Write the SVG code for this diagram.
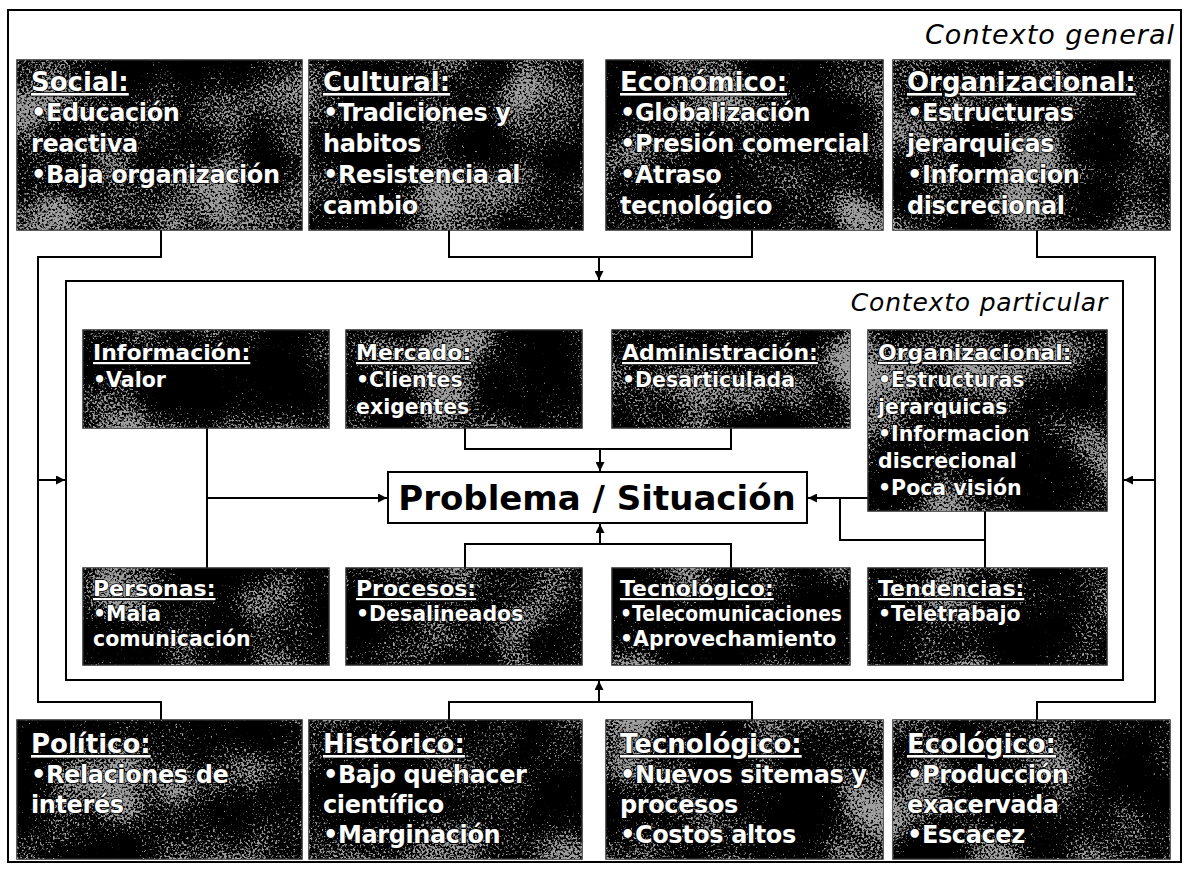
<svg xmlns="http://www.w3.org/2000/svg" width="1189" height="869" viewBox="0 0 1189 869">
  <style>
    .frame { fill: #ffffff; stroke: #000000; stroke-width: 2; }
    .box { fill: #000000; stroke: #2a2a2a; stroke-width: 1.5; }
    .grain { fill: #000000; filter: url(#speckle); }
    .wire { fill: none; stroke: #000000; stroke-width: 2; }
    .arrow { fill: none; stroke: #000000; stroke-width: 2; marker-end: url(#head); }
    .ctx { font-family: "DejaVu Sans", Verdana, sans-serif; font-style: italic; fill: #000000; }
    .t { font-family: "DejaVu Sans", Verdana, sans-serif; font-weight: bold; fill: #ffffff;
         stroke: #000000; stroke-width: 1.6; paint-order: stroke; stroke-linejoin: round; }
    .big { font-size: 24px; letter-spacing: -0.4px; }
    .big .hd { font-size: 26px; letter-spacing: 0; }
    .mid { font-size: 20.5px; }
    .mid .hd { font-size: 22px; }
    .hd { text-decoration: underline; }
    .prob { font-family: "DejaVu Sans", Verdana, sans-serif; font-weight: bold; font-size: 34px; fill: #000000; }
    .pbox { fill: #ffffff; stroke: #000000; stroke-width: 2; }
  </style>
  <defs>
    <!-- grey speckle over the dark boxes: fine noise whose density drifts with a slow noise field -->
    <filter id="speckle" x="0" y="0" width="1" height="1" color-interpolation-filters="sRGB">
      <feTurbulence type="fractalNoise" baseFrequency="0.45" numOctaves="3" seed="7" result="fine"/>
      <feColorMatrix in="fine" type="matrix" values="0 0 0 0 0  0 0 0 0 0  0 0 0 0 0  1 0 0 0 0" result="fineA"/>
      <feTurbulence type="fractalNoise" baseFrequency="0.012" numOctaves="2" seed="23" result="slow"/>
      <feColorMatrix in="slow" type="matrix" values="0 0 0 0 0  0 0 0 0 0  0 0 0 0 0  1 0 0 0 0" result="slowA"/>
      <feComposite in="fineA" in2="slowA" operator="arithmetic" k1="0" k2="1" k3="1" k4="-0.5" result="mix"/>
      <feColorMatrix in="mix" type="matrix" values="0 0 0 0 0.62  0 0 0 0 0.62  0 0 0 0 0.62  0 0 0 6 -3.45" result="spots"/>
      <feComposite in="spots" in2="SourceGraphic" operator="in"/>
    </filter>
    <marker id="head" viewBox="0 0 10 10" refX="10" refY="5" markerWidth="5" markerHeight="4.5" orient="auto" markerUnits="strokeWidth">
      <path d="M0,0 L10,5 L0,10 z" fill="#000000"/>
    </marker>
  </defs>

  <!-- general context frame -->
  <rect class="frame" x="8" y="10" width="1173" height="852"/>
  <text class="ctx" x="1175" y="44" font-size="27" letter-spacing="1" text-anchor="end">Contexto general</text>

  <!-- particular context frame -->
  <rect class="frame" x="66" y="281" width="1057" height="399"/>
  <text class="ctx" x="1108" y="311" font-size="25" letter-spacing="0.8" text-anchor="end">Contexto particular</text>

  <!-- connectors -->
  <g id="connectors">
    <path class="wire" d="M161,230 V257 H38 V702 H161 V720"/>
    <path class="arrow" d="M38,480 H65"/>
    <path class="wire" d="M1037,230 V257 H1155 V702 H1037 V720"/>
    <path class="arrow" d="M1155,480 H1124"/>
    <path class="wire" d="M449,230 V257 H752 V230"/>
    <path class="arrow" d="M599,257 V280"/>
    <path class="wire" d="M449,720 V702 H752 V720"/>
    <path class="arrow" d="M599,702 V681"/>

    <path class="wire" d="M207,428 V568"/>
    <path class="arrow" d="M207,498 H387"/>
    <path class="wire" d="M465,428 V449 H731 V428"/>
    <path class="arrow" d="M600,449 V471"/>
    <path class="wire" d="M465,568 V544 H731 V568"/>
    <path class="arrow" d="M600,544 V524"/>
    <path class="wire" d="M985,511 V568 M985,540 H840 V498"/>
    <path class="arrow" d="M868,498 H808"/>
  </g>

  <!-- top row: general context -->
  <g id="social">
    <rect class="box" x="17" y="60" width="285" height="170"/>
    <rect class="grain" x="17" y="60" width="285" height="170"/>
    <text class="t big" x="31"><tspan class="hd" y="91">Social:</tspan><tspan x="31" y="121">•Educación</tspan><tspan x="31" y="152">reactiva</tspan><tspan x="31" y="183">•Baja organización</tspan></text>
  </g>
  <g id="cultural">
    <rect class="box" x="309" y="60" width="274" height="170"/>
    <rect class="grain" x="309" y="60" width="274" height="170"/>
    <text class="t big" x="323"><tspan class="hd" y="91">Cultural:</tspan><tspan x="323" y="121">•Tradiciones y</tspan><tspan x="323" y="152">habitos</tspan><tspan x="323" y="183">•Resistencia al</tspan><tspan x="323" y="214">cambio</tspan></text>
  </g>
  <g id="economico">
    <rect class="box" x="606" y="60" width="277" height="170"/>
    <rect class="grain" x="606" y="60" width="277" height="170"/>
    <text class="t big" x="620"><tspan class="hd" y="91">Económico:</tspan><tspan x="620" y="121">•Globalización</tspan><tspan x="620" y="152">•Presión comercial</tspan><tspan x="620" y="183">•Atraso</tspan><tspan x="620" y="214">tecnológico</tspan></text>
  </g>
  <g id="organizacional-general">
    <rect class="box" x="893" y="60" width="277" height="170"/>
    <rect class="grain" x="893" y="60" width="277" height="170"/>
    <text class="t big" x="907"><tspan class="hd" y="91">Organizacional:</tspan><tspan x="907" y="121">•Estructuras</tspan><tspan x="907" y="152">jerarquicas</tspan><tspan x="907" y="183">•Informacion</tspan><tspan x="907" y="214">discrecional</tspan></text>
  </g>

  <!-- inner context: upper row -->
  <g id="informacion">
    <rect class="box" x="83" y="330" width="246" height="98"/>
    <rect class="grain" x="83" y="330" width="246" height="98"/>
    <text class="t mid" x="93"><tspan class="hd" y="360">Información:</tspan><tspan x="93" y="387">•Valor</tspan></text>
  </g>
  <g id="mercado">
    <rect class="box" x="346" y="330" width="236" height="98"/>
    <rect class="grain" x="346" y="330" width="236" height="98"/>
    <text class="t mid" x="356"><tspan class="hd" y="360">Mercado:</tspan><tspan x="356" y="387">•Clientes</tspan><tspan x="356" y="414">exigentes</tspan></text>
  </g>
  <g id="administracion">
    <rect class="box" x="612" y="330" width="238" height="98"/>
    <rect class="grain" x="612" y="330" width="238" height="98"/>
    <text class="t mid" x="622"><tspan class="hd" y="360">Administración:</tspan><tspan x="622" y="387">•Desarticulada</tspan></text>
  </g>
  <g id="organizacional-particular">
    <rect class="box" x="868" y="330" width="239" height="181"/>
    <rect class="grain" x="868" y="330" width="239" height="181"/>
    <text class="t mid" x="878"><tspan class="hd" y="360">Organizacional:</tspan><tspan x="878" y="387">•Estructuras</tspan><tspan x="878" y="414">jerarquicas</tspan><tspan x="878" y="441">•Informacion</tspan><tspan x="878" y="468">discrecional</tspan><tspan x="878" y="495">•Poca visión</tspan></text>
  </g>

  <!-- central problem -->
  <g id="problema">
    <rect class="pbox" x="388" y="472" width="419" height="51"/>
    <text class="prob" x="597" y="510" text-anchor="middle">Problema / Situación</text>
  </g>

  <!-- inner context: lower row -->
  <g id="personas">
    <rect class="box" x="83" y="568" width="246" height="97"/>
    <rect class="grain" x="83" y="568" width="246" height="97"/>
    <text class="t mid" x="93"><tspan class="hd" y="596">Personas:</tspan><tspan x="93" y="621">•Mala</tspan><tspan x="93" y="646">comunicación</tspan></text>
  </g>
  <g id="procesos">
    <rect class="box" x="346" y="568" width="236" height="97"/>
    <rect class="grain" x="346" y="568" width="236" height="97"/>
    <text class="t mid" x="356"><tspan class="hd" y="596">Procesos:</tspan><tspan x="356" y="621">•Desalineados</tspan></text>
  </g>
  <g id="tecnologico-particular">
    <rect class="box" x="612" y="568" width="238" height="97"/>
    <rect class="grain" x="612" y="568" width="238" height="97"/>
    <text class="t mid" x="620"><tspan class="hd" y="596">Tecnológico:</tspan><tspan x="620" y="621" textLength="222" lengthAdjust="spacingAndGlyphs">•Telecomunicaciones</tspan><tspan x="620" y="646">•Aprovechamiento</tspan></text>
  </g>
  <g id="tendencias">
    <rect class="box" x="868" y="568" width="239" height="97"/>
    <rect class="grain" x="868" y="568" width="239" height="97"/>
    <text class="t mid" x="878"><tspan class="hd" y="596">Tendencias:</tspan><tspan x="878" y="621">•Teletrabajo</tspan></text>
  </g>

  <!-- bottom row: general context -->
  <g id="politico">
    <rect class="box" x="17" y="720" width="285" height="139"/>
    <rect class="grain" x="17" y="720" width="285" height="139"/>
    <text class="t big" x="31"><tspan class="hd" y="753">Político:</tspan><tspan x="31" y="783">•Relaciones de</tspan><tspan x="31" y="813">interés</tspan></text>
  </g>
  <g id="historico">
    <rect class="box" x="309" y="720" width="273" height="139"/>
    <rect class="grain" x="309" y="720" width="273" height="139"/>
    <text class="t big" x="323"><tspan class="hd" y="753">Histórico:</tspan><tspan x="323" y="783">•Bajo quehacer</tspan><tspan x="323" y="813">científico</tspan><tspan x="323" y="843">•Marginación</tspan></text>
  </g>
  <g id="tecnologico-general">
    <rect class="box" x="606" y="720" width="277" height="139"/>
    <rect class="grain" x="606" y="720" width="277" height="139"/>
    <text class="t big" x="620"><tspan class="hd" y="753">Tecnológico:</tspan><tspan x="620" y="783">•Nuevos sitemas y</tspan><tspan x="620" y="813">procesos</tspan><tspan x="620" y="843">•Costos altos</tspan></text>
  </g>
  <g id="ecologico">
    <rect class="box" x="893" y="720" width="277" height="139"/>
    <rect class="grain" x="893" y="720" width="277" height="139"/>
    <text class="t big" x="907"><tspan class="hd" y="753">Ecológico:</tspan><tspan x="907" y="783">•Producción</tspan><tspan x="907" y="813">exacervada</tspan><tspan x="907" y="843">•Escacez</tspan></text>
  </g>
</svg>
